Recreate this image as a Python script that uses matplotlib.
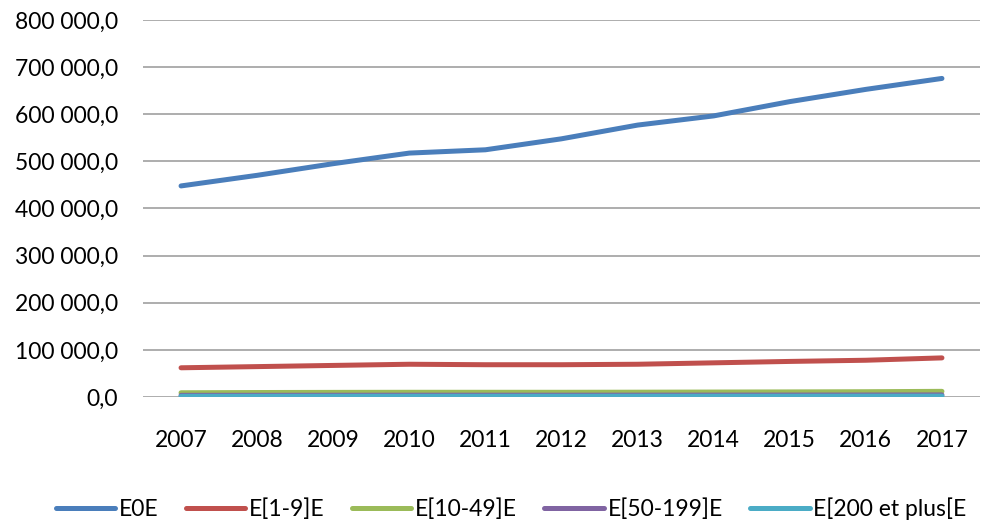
import matplotlib.pyplot as plt
from matplotlib.ticker import FuncFormatter

plt.rcParams['font.family'] = ['Lato', 'DejaVu Sans']

# Data
years = ["2007", "2008", "2009", "2010", "2011", "2012",
         "2013", "2014", "2015", "2016", "2017"]
e0e = [447900, 470400, 495100, 517600, 524600, 547900,
       577000, 596500, 626800, 652800, 676000]
e1_9 = [62000, 64500, 67000, 69500, 68500, 68500,
        69500, 72500, 75500, 78000, 83000]
e10_49 = [9000, 9500, 9800, 10000, 10000, 10000,
          10200, 10500, 10800, 11200, 12000]
e50_199 = [3500, 3600, 3700, 3800, 3800, 3800,
           3900, 4000, 4100, 4200, 4400]
e200 = [1500, 1500, 1600, 1600, 1600, 1600,
        1700, 1700, 1700, 1800, 1800]
labels = ["E0E", "E[1-9]E", "E[10-49]E", "E[50-199]E", "E[200 et plus[E"]
colors = ["#4A7EBB", "#C0504D", "#9BBB59", "#8064A2", "#4BACC6"]

fig = plt.figure(figsize=(9.82, 5.25), dpi=100)
ax = fig.add_axes([143 / 982, 1 - 397 / 525, 837 / 982, 377 / 525])

x = list(range(len(years)))
for vals, lab, col in zip([e0e, e1_9, e10_49, e50_199, e200], labels, colors):
    ax.plot(x, vals, color=col, lw=3.6, label=lab, solid_capstyle="round")

ax.set_xlim(-0.5, len(years) - 0.5)
ax.set_ylim(0, 800000)
ax.set_yticks(range(0, 800001, 100000))
ax.yaxis.set_major_formatter(FuncFormatter(
    lambda v, p: "{:,.1f}".format(v).replace(",", " ").replace(".", ",")))
ax.set_xticks(x)
ax.set_xticklabels(years)
ax.grid(axis="y", color="#A0A0A0", lw=1.2)
ax.set_axisbelow(True)
for s in ax.spines.values():
    s.set_visible(False)
ax.tick_params(length=0, labelsize=16.5, colors="#000000")
ax.tick_params(axis="x", pad=24)
ax.tick_params(axis="y", pad=18)

fig.legend(loc="center", bbox_to_anchor=(0.5 + 20 / 982, 1 - 509 / 525), ncol=5,
           frameon=False, fontsize=16.5, handlelength=2.6, columnspacing=1.2,
           handletextpad=0.15)

fig.savefig("out.png", dpi=100)
